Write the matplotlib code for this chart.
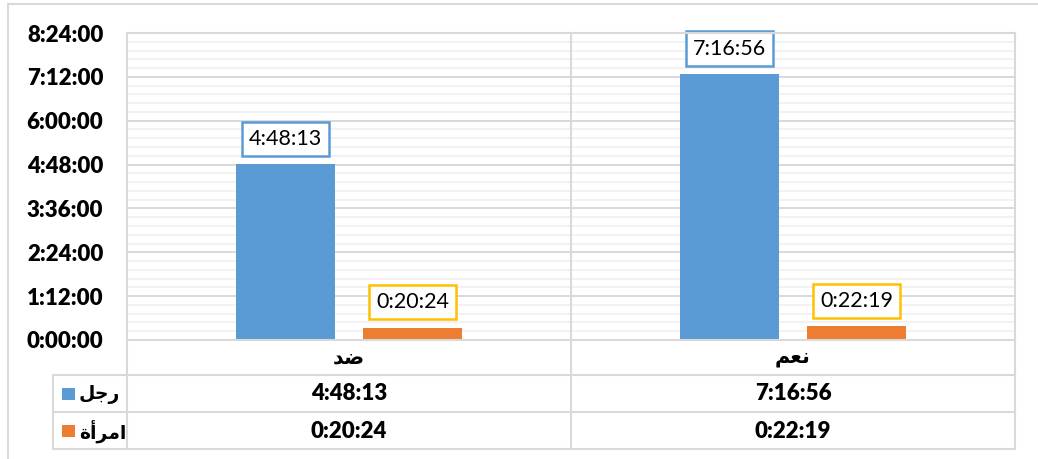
import numpy as np
import matplotlib
matplotlib.use('Agg')
import matplotlib.pyplot as plt
from matplotlib.lines import Line2D
from matplotlib.patches import Rectangle
from matplotlib import transforms

# data
categories = ['ضد', 'نعم']
series_names = ['رجل', 'امرأة']
men = ['4:48:13', '7:16:56']
women = ['0:20:24', '0:22:19']
colors = ['#5B9BD5', '#ED7D31']
label_edges = ['#5B9BD5', '#FFC000']

plt.rcParams['font.family'] = ['Lato', 'DejaVu Sans']

# minimal arabic shaping (matplotlib draws glyphs left to right, unjoined)
FORMS = {
    'ض': ('\uFEBD', '\uFEBE', '\uFEBF', '\uFEC0', True),
    'د': ('\uFEA9', '\uFEAA', None, None, False),
    'ن': ('\uFEE5', '\uFEE6', '\uFEE7', '\uFEE8', True),
    'ع': ('\uFEC9', '\uFECA', '\uFECB', '\uFECC', True),
    'م': ('\uFEE1', '\uFEE2', '\uFEE3', '\uFEE4', True),
    'ر': ('\uFEAD', '\uFEAE', None, None, False),
    'ج': ('\uFE9D', '\uFE9E', '\uFE9F', '\uFEA0', True),
    'ل': ('\uFEDD', '\uFEDE', '\uFEDF', '\uFEE0', True),
    'ا': ('\uFE8D', '\uFE8E', None, None, False),
    'أ': ('\uFE83', '\uFE84', None, None, False),
    'ة': ('\uFE93', '\uFE94', None, None, False),
}


def shape(word):
    out = []
    for i, ch in enumerate(word):
        iso, fin, ini, med, joins = FORMS[ch]
        prev = i > 0 and FORMS[word[i - 1]][4]
        nxt = joins and i < len(word) - 1
        if prev and nxt:
            out.append(med)
        elif prev:
            out.append(fin)
        elif nxt:
            out.append(ini)
        else:
            out.append(iso)
    return ''.join(reversed(out))


def to_min(s):
    h, m, sec = [int(p) for p in s.split(':')]
    return h * 60 + m + sec / 60


W, H = 1038, 459
fig = plt.figure(figsize=(W / 100, H / 100), dpi=100)


def fx(px):
    return px / W


def fy(py):
    return 1 - py / H


left, right, top, bottom = 127, 1015, 33, 340
ax = fig.add_axes([fx(left), fy(bottom), (right - left) / W, (bottom - top) / H])

x = np.arange(len(categories))
off, bw = 0.143, 0.225
for vals, dx, c, ec in [(men, -off, colors[0], label_edges[0]), (women, off, colors[1], label_edges[1])]:
    v = [to_min(s) for s in vals]
    ax.bar(x + dx, v, bw, color=c, zorder=3)
    for xi, vi, s in zip(x + dx, v, vals):
        ax.annotate(s, (xi, vi), xytext=(0, 11), textcoords='offset points',
                    ha='center', va='bottom', fontsize=15.5, zorder=4,
                    bbox=dict(boxstyle='square,pad=0.33', fc='white', ec=ec, lw=1.8))

ax.set_xlim(-0.5, 1.5)
ax.set_ylim(0, 504)
ax.set_yticks(np.arange(0, 505, 72))
ax.set_yticks(np.arange(0, 505, 14.4), minor=True)
ax.set_yticklabels(['%d:%02d:00' % (t // 60, t % 60) for t in np.arange(0, 505, 72)],
                   fontsize=16, fontweight='heavy')
ax.tick_params(axis='y', which='both', length=0, pad=17)
ax.set_xticks([])
ax.set_axisbelow(True)
ax.grid(which='major', axis='y', color='#D9D9D9', lw=1.4)
ax.grid(which='minor', axis='y', color='#F0F0F0', lw=1.2)
for sp in ax.spines.values():
    sp.set_visible(False)

# chart border
fig.patches.append(Rectangle((fx(8), fy(500)), 2, fy(4) - fy(500), transform=fig.transFigure,
                             fc='none', ec='#D9D9D9', lw=1.5))

# data table grid
gc = '#D9D9D9'


def hline(y, x0, x1):
    fig.add_artist(Line2D([fx(x0), fx(x1)], [fy(y), fy(y)], color=gc, lw=1.5, transform=fig.transFigure))


def vline(xp, y0, y1):
    fig.add_artist(Line2D([fx(xp), fx(xp)], [fy(y0), fy(y1)], color=gc, lw=1.5, transform=fig.transFigure))


hline(top, left, right)
hline(bottom, left, right)
hline(375, 53, right)
hline(412, 53, right)
hline(449, 53, right)
vline(left, top, 449)
vline(right, top, 449)
vline((left + right) / 2, top, 449)
vline(53, 375, 449)

tr = transforms.blended_transform_factory(ax.transData, fig.transFigure)
for xi, cat, m, w in zip(x, categories, men, women):
    fig.text(xi, fy(357), shape(cat), transform=tr, ha='center', va='center',
             fontsize=15, fontweight='bold', family='DejaVu Sans')
    fig.text(xi, fy(394), m, transform=tr, ha='center', va='center', fontsize=16, fontweight='heavy')
    fig.text(xi, fy(431), w, transform=tr, ha='center', va='center', fontsize=16, fontweight='heavy')

for yc, name, c in [(394, series_names[0], colors[0]), (431, series_names[1], colors[1])]:
    fig.patches.append(Rectangle((fx(62), fy(yc + 6)), 13 / W, 12 / H, transform=fig.transFigure,
                                 fc=c, ec='none'))
    fig.text(fx(79), fy(yc), shape(name), ha='left', va='center', fontsize=13.5,
             fontweight='bold', family='DejaVu Sans')

fig.savefig('out.png', dpi=100)
